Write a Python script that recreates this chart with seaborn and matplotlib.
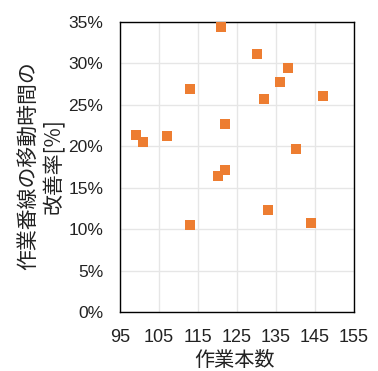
import matplotlib
matplotlib.use('Agg')
import matplotlib.pyplot as plt
import seaborn as sns
import pandas as pd
from matplotlib.ticker import FuncFormatter

# 作業本数 と 改善率[%]
work_count = [121, 130, 138, 136, 113, 132, 147, 122, 99, 101, 107, 140, 122, 120, 133, 113, 144]
improve_rate = [34.4, 31.1, 29.5, 27.7, 26.9, 25.7, 26.1, 22.7, 21.4, 20.5, 21.2, 19.7, 17.1, 16.4, 12.3, 10.5, 10.7]

x_ticks = [95, 105, 115, 125, 135, 145, 155]
y_ticks = [0, 5, 10, 15, 20, 25, 30, 35]

df = pd.DataFrame({'作業本数': work_count, '改善率': improve_rate})

sns.set_style('white')
plt.rcParams['font.family'] = ['Liberation Sans', 'Noto Sans CJK JP', 'DejaVu Sans']

fig = plt.figure(figsize=(3.78, 3.71), dpi=100)
ax = fig.add_axes([120 / 378, 59 / 371, 234 / 378, 290 / 371])

sns.scatterplot(data=df, x='作業本数', y='改善率', marker='s', s=50,
                color='#ED7D31', linewidth=0, ax=ax, zorder=3)

ax.set_xlim(95, 155)
ax.set_ylim(0, 35)
ax.set_xticks(x_ticks)
ax.set_yticks(y_ticks)
ax.yaxis.set_major_formatter(FuncFormatter(lambda v, p: f'{v:.0f}%'))
ax.grid(True, color='#E6E6E6', linewidth=1)
ax.set_axisbelow(True)
ax.tick_params(axis='y', length=0, labelsize=12.5, pad=12, colors='#222222')
ax.tick_params(axis='x', length=0, labelsize=13, pad=12, colors='#222222')

for s in ax.spines.values():
    s.set_color('black')
    s.set_linewidth(1)

ax.set_xlabel('')
ax.set_ylabel('')

jp = ['Noto Sans CJK JP', 'DejaVu Sans']
fig.text(235 / 378, (371 - 360) / 371, '作業本数', family=jp, fontsize=14.5,
         ha='center', va='center', color='#222222')
fig.text(41 / 378, (371 - 166) / 371, '作業番線の移動時間の\n改善率[%]', family=jp,
         fontsize=15, rotation=90, ha='center', va='center', multialignment='center',
         linespacing=1.2, color='#222222')

fig.savefig('out.png', dpi=100)
